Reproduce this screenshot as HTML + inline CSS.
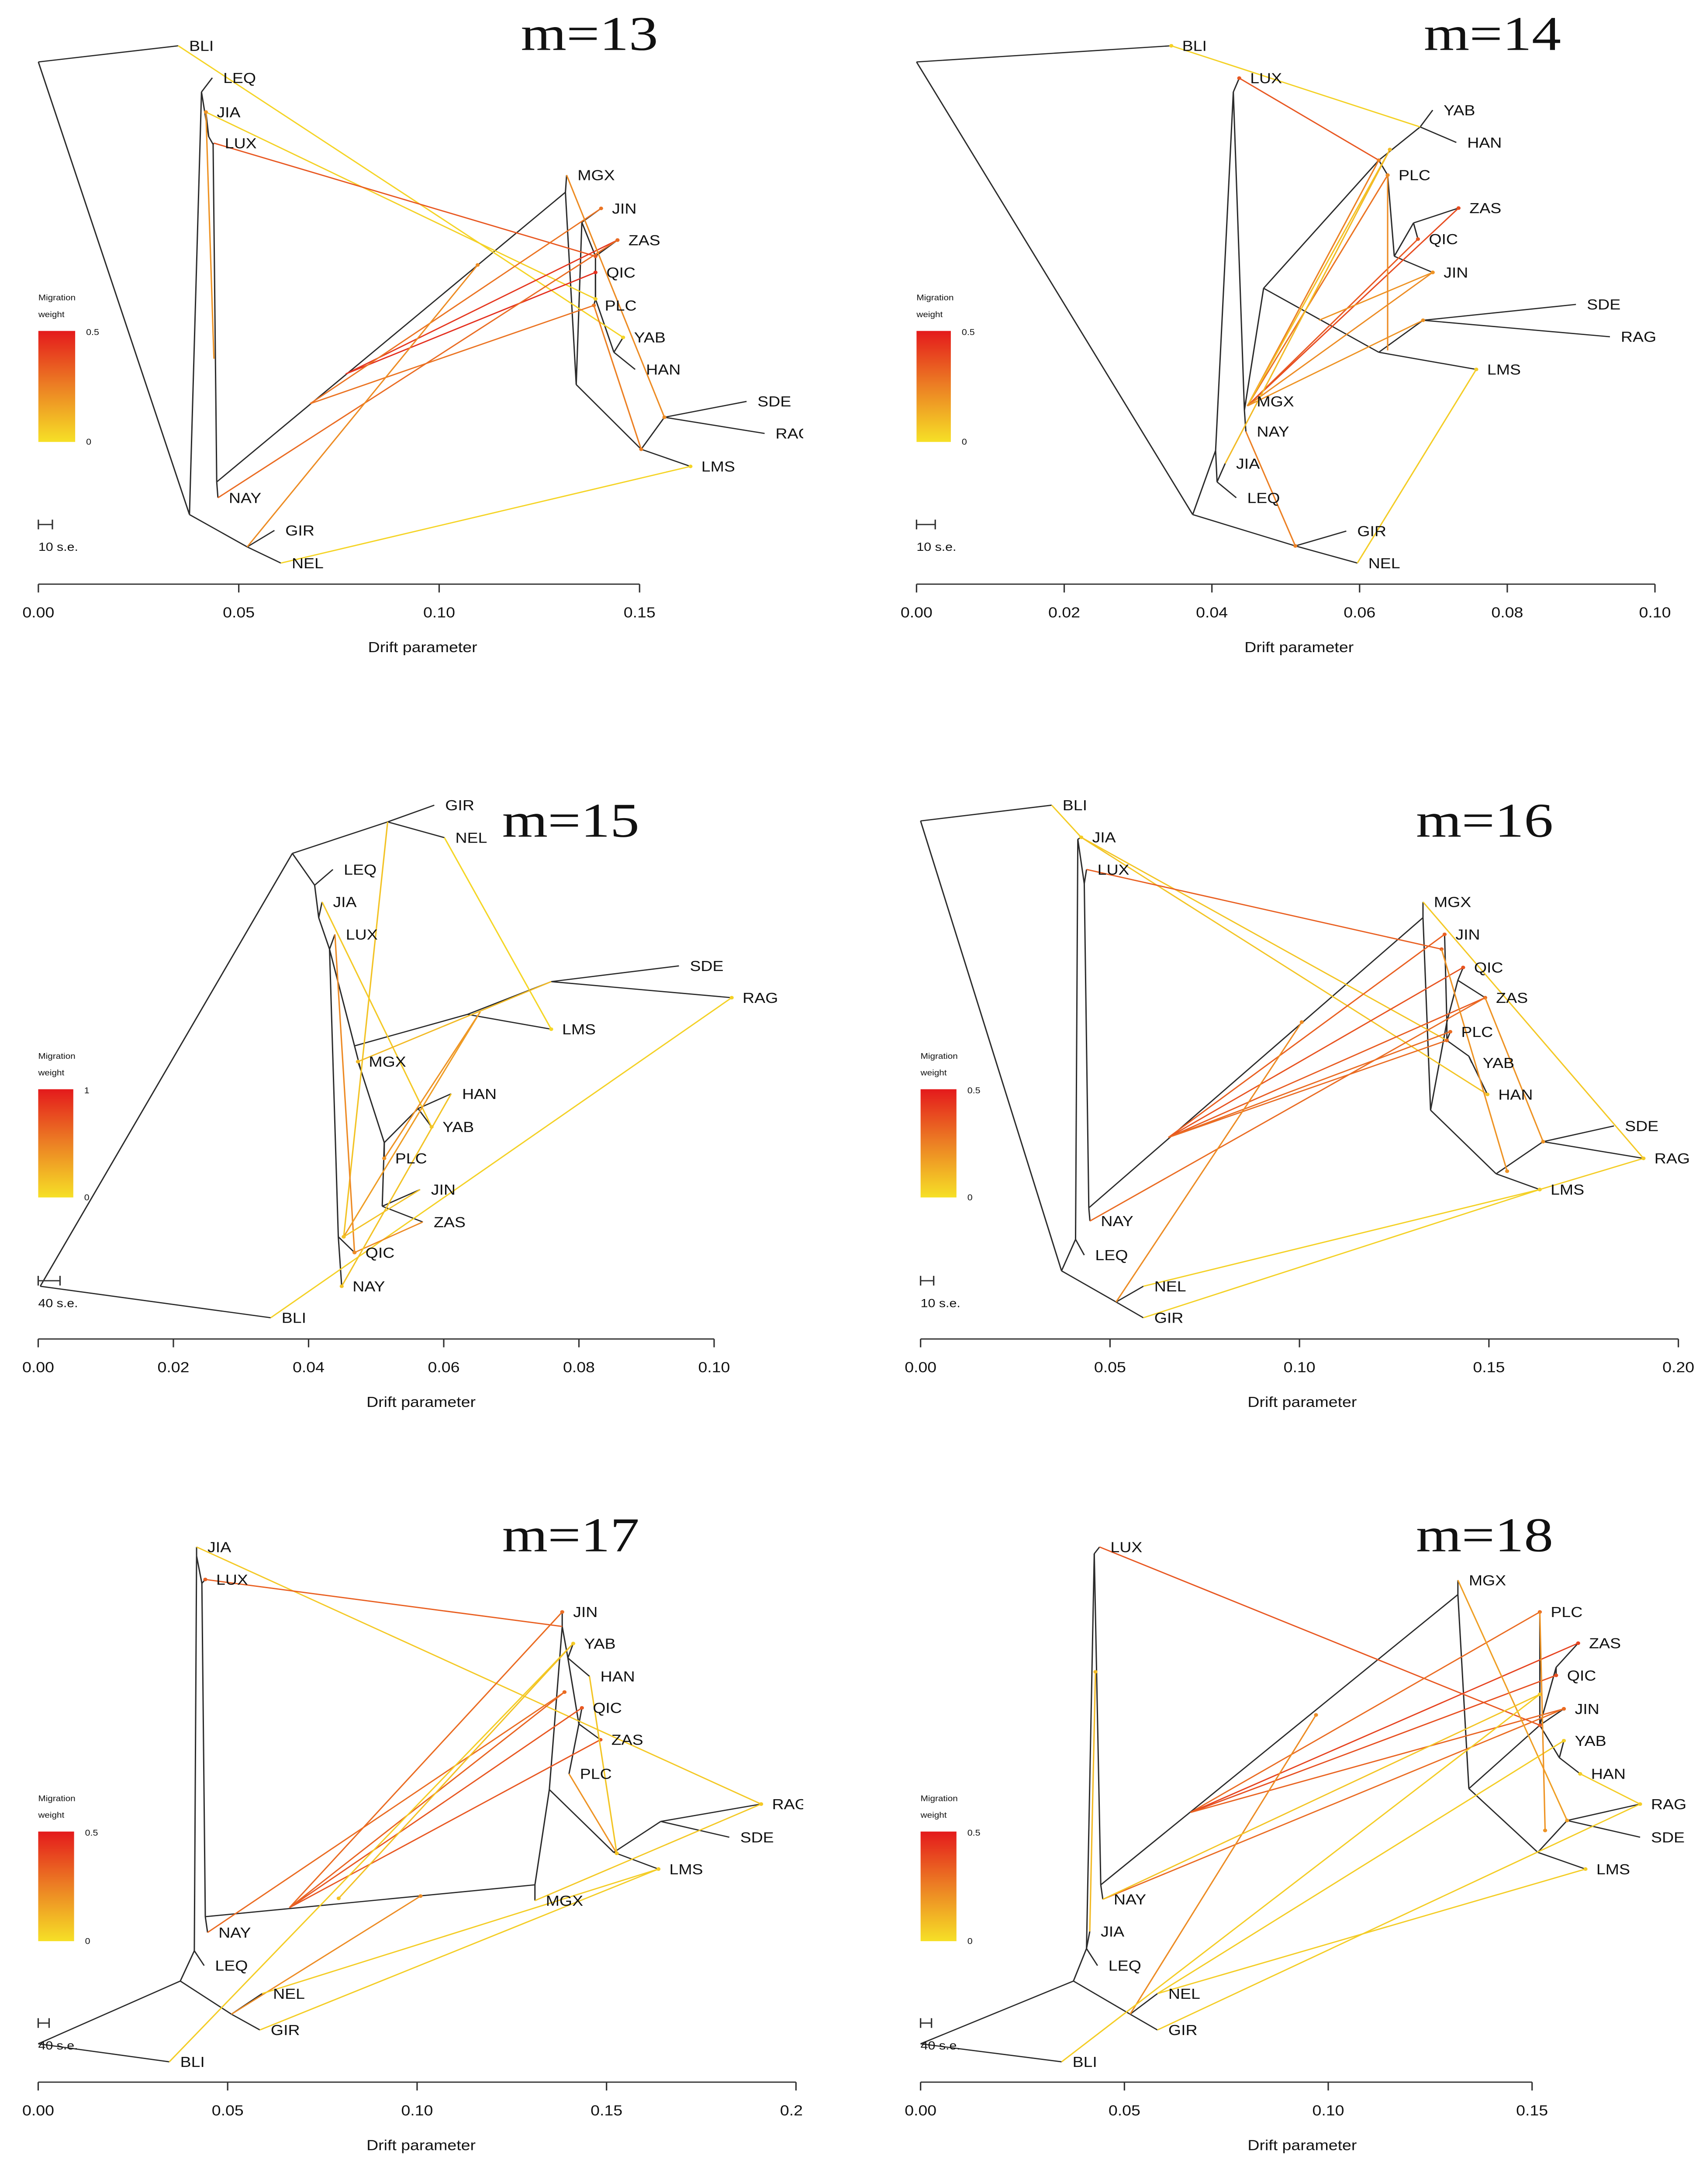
<!DOCTYPE html>
<html><head><meta charset="utf-8"><title>TreeMix m=13..18</title>
<style>
html,body{margin:0;padding:0;background:#fff;width:100vw;height:100vh;overflow:hidden;}
svg{display:block;width:100vw;height:100vh;}
text{font-family:"Liberation Sans",Arial,sans-serif;fill:#111;}
.ttl{font-family:"Liberation Serif","Times New Roman",serif;}
</style></head>
<body>
<svg id="fig" xmlns="http://www.w3.org/2000/svg" viewBox="0 0 1092 1574" preserveAspectRatio="none">
<defs>
<linearGradient id="legGrad" x1="0" y1="0" x2="0" y2="1">
<stop offset="0" stop-color="rgb(228,26,28)"/>
<stop offset="0.5" stop-color="rgb(236,128,36)"/>
<stop offset="1" stop-color="rgb(246,224,38)"/>
</linearGradient>
<clipPath id="clipLeft"><rect x="0" y="0" width="515" height="1574"/></clipPath>
<clipPath id="clipRight"><rect x="560" y="0" width="532" height="1574"/></clipPath>
</defs>
<rect x="0" y="0" width="1092" height="1574" fill="#fff"/>
</svg>
<script>
// ---------------- DATA ----------------
const pops = ["BLI","LEQ","JIA","LUX","MGX","JIN","ZAS","QIC","PLC","YAB","HAN","SDE","RAG","LMS","NAY","GIR","NEL"];

// Panel m=13
const p1Nodes = [["R",0,0.5],["BLI",0.0349,0],["N1",0.0377,14.5],["N4",0.0521,15.5],["GIR",0.0589,14.99],["NEL",0.0605,16],
["A1",0.0407,1.43],["LEQ",0.0434,0.99],["A2",0.0425,2.81],["JIA",0.0418,2.05],["B",0.0436,3.05],["LUX",0.0438,3.01],
["C",0.0445,13.49],["NAY",0.0448,13.98],["D",0.1315,4.53],["MGX",0.1318,4.0],["E",0.1342,10.48],["F",0.1504,12.48],
["G",0.1562,11.49],["SDE",0.1767,11],["RAG",0.1812,11.99],["LMS",0.1627,13.01],["H",0.1356,5.46],["JIN",0.1404,5.03],
["I",0.139,6.51],["ZAS",0.1445,6.01],["J",0.139,7.83],["QIC",0.139,7.01],["PLC",0.1386,8.03],["K",0.1436,9.48],
["YAB",0.1459,9.02],["HAN",0.1489,10.01],["p",0.0438,9.68],["x1",0.0767,10.15],["x2",0.0678,11.07],["x3",0.1096,6.78]];
const p1Edges = ["R-BLI","R-N1","N1-N4","N4-GIR","N4-NEL","N1-A1","A1-LEQ","A1-A2","A2-JIA","A2-B","B-LUX","B-C","C-NAY","C-D","D-MGX","D-E","E-F","F-G","G-SDE","G-RAG","F-LMS","E-H","H-JIN","H-I","I-ZAS","I-J","J-QIC","J-PLC","J-K","K-YAB","K-HAN"];
const p1MigSrc = ["BLI","JIA","LUX","p","x1","x1","x2","x2","NAY","N4","MGX","PLC","NEL"];
const p1MigDst = ["YAB","J","I","JIA","ZAS","QIC","JIN","PLC","ZAS","x3","G","F","LMS"];
const p1MigW = [0.03,0.04,0.35,0.2,0.43,0.45,0.28,0.28,0.3,0.22,0.22,0.25,0.03];
const p1Ticks = [0,0.05,0.10,0.15];
const p1TickLabels = ["0.00","0.05","0.10","0.15"];

// Panel m=14
const p2Nodes = [["R",0,0.5],["BLI",0.0345,0],["N1",0.0374,14.5],["N4",0.0513,15.47],["GIR",0.0582,15.01],["NEL",0.0597,16],
["V1",0.0405,12.52],["V1b",0.0407,13.49],["LEQ",0.0433,13.98],["JIA",0.0418,12.92],["V2",0.0429,1.43],["LUX",0.0437,1.0],
["V3",0.0444,11.27],["MGX",0.0446,11.0],["NAY",0.0446,11.93],["P",0.047,7.5],["Q",0.0626,3.54],["Q2",0.0682,2.51],
["YAB",0.0699,1.99],["HAN",0.0731,2.99],["PLC",0.0638,4.0],["S",0.0647,6.51],["U",0.0673,5.48],["ZAS",0.0734,5.02],
["QIC",0.0679,5.98],["JIN",0.0699,7.01],["W",0.0626,9.48],["X",0.0686,8.49],["SDE",0.0893,8.0],["RAG",0.0939,9.0],
["LMS",0.0758,10.01],["m0",0.0448,11.14],["y1",0.0641,3.21],["y2",0.0545,8.49],["y3",0.0638,9.42]];
const p2Edges = ["R-BLI","R-N1","N1-N4","N4-GIR","N4-NEL","N1-V1","V1-V1b","V1b-LEQ","V1b-JIA","V1-V2","V2-LUX","V2-V3","V3-MGX","V3-NAY","V3-P","P-Q","Q-Q2","Q2-YAB","Q2-HAN","Q-PLC","PLC-S","S-U","U-ZAS","U-QIC","S-JIN","P-W","W-X","X-SDE","X-RAG","W-LMS"];
const p2MigSrc = ["Q2","Q","m0","m0","m0","m0","m0","m0","m0","y2","JIA","y3","NAY","NEL"];
const p2MigDst = ["BLI","LUX","Q","PLC","y1","ZAS","QIC","JIN","X","JIN","y1","PLC","N4","LMS"];
const p2MigW = [0.04,0.35,0.25,0.28,0.08,0.38,0.35,0.22,0.2,0.2,0.1,0.22,0.25,0.05];
const p2Ticks = [0,0.02,0.04,0.06,0.08,0.10];
const p2TickLabels = ["0.00","0.02","0.04","0.06","0.08","0.10"];

// Panel m=15
const p3Nodes = [["R",0.0003,14.97],["BLI",0.0344,15.95],["N1",0.0376,1.5],["N2",0.0517,0.52],["GIR",0.0586,0],["NEL",0.0601,1.01],
["A",0.0409,2.49],["LEQ",0.0436,2.0],["B",0.0415,3.5],["JIA",0.042,3.01],["C",0.0431,4.48],["LUX",0.0439,4.02],
["K",0.0444,13.43],["QIC",0.0468,13.92],["NAY",0.0449,14.97],["D",0.0468,7.49],["E",0.0635,6.51],["F",0.0759,5.49],
["SDE",0.0948,5.0],["RAG",0.1026,5.99],["LMS",0.0759,6.97],["G2",0.0477,8.22],["MGX",0.0473,7.98],["H",0.0512,10.5],
["I",0.0562,9.44],["HAN",0.0611,8.98],["YAB",0.0582,10.01],["J",0.0509,12.48],["JIN",0.0565,11.96],["ZAS",0.0569,12.97],
["PLC",0.0512,10.99],["q1",0.0452,13.43],["q2",0.0654,6.43]];
const p3Edges = ["R-BLI","R-N1","N1-N2","N2-GIR","N2-NEL","N1-A","A-LEQ","A-B","B-JIA","B-C","C-LUX","C-K","K-QIC","K-NAY","C-D","D-E","E-F","F-SDE","F-RAG","E-LMS","D-G2","G2-MGX","G2-H","H-I","I-HAN","I-YAB","H-PLC","H-J","J-JIN","J-ZAS"];
const p3MigSrc = ["N2","NEL","LUX","JIA","BLI","q2","q2","F","JIN","ZAS","HAN"];
const p3MigDst = ["q1","LMS","QIC","YAB","RAG","PLC","q1","MGX","q1","QIC","NAY"];
const p3MigW = [0.15,0.05,0.45,0.12,0.08,0.4,0.35,0.2,0.15,0.45,0.15];
const p3Ticks = [0,0.02,0.04,0.06,0.08,0.10];
const p3TickLabels = ["0.00","0.02","0.04","0.06","0.08","0.10"];

// Panel m=16
const p4Nodes = [["R",0,0.49],["BLI",0.0346,0],["N1",0.0372,14.49],["N4",0.0516,15.46],["NEL",0.0588,14.97],["GIR",0.0588,15.95],
["L",0.0409,13.51],["LEQ",0.0432,14.0],["A",0.0415,1.06],["JIA",0.0424,1.0],["B",0.0432,2.44],["LUX",0.0438,2.0],
["C",0.0444,12.53],["NAY",0.0447,12.94],["D",0.1326,3.5],["MGX",0.1326,3.01],["E",0.1346,9.49],["F",0.1389,6.75],
["JIN",0.1383,4.02],["G",0.1418,5.45],["QIC",0.1432,5.05],["ZAS",0.149,5.99],["H",0.1389,7.32],["PLC",0.1398,7.05],
["I",0.1447,7.81],["YAB",0.1455,8.02],["HAN",0.1496,9.0],["J",0.1519,11.47],["K",0.1643,10.47],["SDE",0.183,9.98],
["RAG",0.1908,10.99],["LMS",0.1634,11.96],["r1",0.0654,10.34],["r2",0.1006,6.75],["r3",0.1375,4.48],["r4",0.1548,11.39]];
const p4Edges = ["R-BLI","R-N1","N1-N4","N4-NEL","N4-GIR","N1-L","L-LEQ","L-A","A-JIA","A-B","B-LUX","B-C","C-NAY","C-D","D-MGX","D-E","E-F","F-JIN","F-G","G-QIC","G-ZAS","F-H","H-PLC","H-I","I-YAB","I-HAN","E-J","J-K","K-SDE","K-RAG","J-LMS"];
const p4MigSrc = ["BLI","JIA","JIA","LUX","r1","r1","r1","r1","r1","NAY","N4","MGX","r3","ZAS","NEL","GIR","RAG"];
const p4MigDst = ["JIA","H","HAN","r3","JIN","QIC","ZAS","PLC","H","ZAS","r2","RAG","r4","K","LMS","LMS","LMS"];
const p4MigW = [0.05,0.07,0.07,0.33,0.33,0.36,0.34,0.3,0.3,0.3,0.22,0.06,0.2,0.2,0.04,0.04,0.05];
const p4Ticks = [0,0.05,0.10,0.15,0.20];
const p4TickLabels = ["0.00","0.05","0.10","0.15","0.20"];

// Panel m=17
const p5Nodes = [["R",0,15.44],["BLI",0.0346,16],["N1",0.0375,13.49],["N4",0.051,14.52],["NEL",0.0591,13.88],["GIR",0.0585,15.01],
["L",0.0412,12.55],["LEQ",0.0438,13.01],["A",0.0418,0.28],["JIA",0.0418,0],["B",0.0432,1.13],["LUX",0.0441,1.01],
["C",0.0441,11.49],["NAY",0.0447,11.98],["D",0.1311,10.5],["MGX",0.1311,10.99],["E",0.1383,2.47],["JIN",0.1383,2.02],
["F",0.1398,3.45],["YAB",0.1412,3.0],["HAN",0.1455,4.02],["G",0.1427,5.5],["QIC",0.1435,5.0],["ZAS",0.1484,5.99],
["PLC",0.1401,7.05],["H",0.1349,7.54],["J",0.1519,9.49],["K",0.1643,8.53],["RAG",0.1908,7.99],["SDE",0.1824,9.02],
["LMS",0.1637,10.01],["s1",0.0663,11.21],["s2",0.1009,10.85],["s3",0.1389,4.51],["s4",0.1527,9.52],["s5",0.0793,10.92]];
const p5Edges = ["R-BLI","R-N1","N1-N4","N4-NEL","N4-GIR","N1-L","L-LEQ","L-A","A-JIA","A-B","B-LUX","B-C","C-NAY","C-D","D-MGX","D-H","H-E","E-JIN","E-F","F-YAB","F-HAN","F-G","G-QIC","G-ZAS","G-PLC","H-J","J-K","K-RAG","K-SDE","J-LMS"];
const p5MigSrc = ["JIA","E","s1","s1","s1","s1","NAY","BLI","N4","NEL","GIR","MGX","PLC","HAN","YAB"];
const p5MigDst = ["RAG","LUX","JIN","QIC","ZAS","s3","s3","YAB","s2","LMS","LMS","RAG","s4","s4","s5"];
const p5MigW = [0.06,0.33,0.3,0.35,0.35,0.32,0.3,0.05,0.22,0.05,0.05,0.06,0.2,0.07,0.08];
const p5Ticks = [0,0.05,0.10,0.15,0.20];
const p5TickLabels = ["0.00","0.05","0.10","0.15","0.20"];

// Panel m=18
const p6Nodes = [["R",0,15.44],["BLI",0.0346,16],["N1",0.0375,13.49],["N4",0.0514,14.52],["NEL",0.0581,13.88],["GIR",0.0581,15.01],
["L",0.0407,12.48],["LEQ",0.0434,13.01],["JIA",0.0415,11.95],["A",0.0426,0.21],["LUX",0.0439,0],["C",0.0442,10.5],
["NAY",0.0447,10.95],["D",0.1318,1.48],["MGX",0.1318,1.03],["E",0.1345,7.51],["F",0.1519,5.54],["PLC",0.1519,2.02],
["G",0.1559,3.74],["ZAS",0.1613,2.99],["QIC",0.1559,3.99],["JIN",0.1578,5.03],["H",0.1567,6.55],["YAB",0.1578,6.02],
["HAN",0.1618,7.05],["J",0.1514,9.49],["K",0.1586,8.5],["RAG",0.1765,7.99],["SDE",0.1765,9.02],["LMS",0.1631,10.01],
["t1",0.0662,8.25],["t2",0.097,5.22],["t3",0.0429,3.88],["t4",0.1532,8.81],["t5",0.1519,4.58]];
const p6Edges = ["R-BLI","R-N1","N1-N4","N4-NEL","N4-GIR","N1-L","L-LEQ","L-JIA","L-A","A-LUX","A-C","C-NAY","C-D","D-MGX","D-E","E-F","F-PLC","F-G","G-ZAS","G-QIC","F-JIN","F-H","H-YAB","H-HAN","E-J","J-K","K-RAG","K-SDE","J-LMS"];
const p6MigSrc = ["LUX","t1","t1","t1","t1","NAY","N4","MGX","JIA","NAY","BLI","NEL","NEL","GIR","PLC","RAG"];
const p6MigDst = ["F","PLC","ZAS","QIC","JIN","JIN","t2","K","t3","t5","t5","YAB","LMS","RAG","t4","HAN"];
const p6MigW = [0.35,0.3,0.4,0.37,0.32,0.3,0.22,0.17,0.1,0.07,0.05,0.05,0.05,0.05,0.2,0.05];
const p6Ticks = [0,0.05,0.10,0.15];
const p6TickLabels = ["0.00","0.05","0.10","0.15"];

// ---------------- DRAWING ----------------
const NS = "http://www.w3.org/2000/svg";
const svg = document.getElementById("fig");
function mk(tag, attrs, parent){
  const e = document.createElementNS(NS, tag);
  for (const k in attrs) e.setAttribute(k, attrs[k]);
  (parent || svg).appendChild(e);
  return e;
}
function lerp(a,b,t){return Math.round(a+(b-a)*t);}
function migColor(t){
  t = Math.max(0, Math.min(1, t));
  const Y=[246,224,38], O=[236,128,36], Rd=[226,28,30];
  let c;
  if (t < 0.5){ const u=t/0.5; c=[lerp(Y[0],O[0],u),lerp(Y[1],O[1],u),lerp(Y[2],O[2],u)]; }
  else { const u=(t-0.5)/0.5; c=[lerp(O[0],Rd[0],u),lerp(O[1],Rd[1],u),lerp(O[2],Rd[2],u)]; }
  return "rgb("+c.join(",")+")";
}

function drawPanel(cfg, nodes, edges, migSrc, migDst, migW, ticks, tickLabels){
  const g = mk("g", {"clip-path": cfg.clip});
  
  
  const X = d => cfg.ox + d * cfg.k;
  const Y = r => cfg.oy + r * cfg.step;
  const pos = {};
  nodes.forEach(n => { pos[n[0]] = [X(n[1]), Y(n[2])]; });

  edges.forEach(e => {
    const [a,b] = e.split("-");
    const l = mk("line", {x1:pos[a][0].toFixed(2), y1:pos[a][1].toFixed(2), x2:pos[b][0].toFixed(2), y2:pos[b][1].toFixed(2), stroke:"#2b2b2b", "stroke-width":0.85}, g);
    
    
  });
  migSrc.forEach((s,i) => {
    const d = migDst[i];
    const col = migColor(migW[i] / cfg.legMax);
    const l = mk("line", {x1:pos[s][0].toFixed(2), y1:pos[s][1].toFixed(2), x2:pos[d][0].toFixed(2), y2:pos[d][1].toFixed(2), stroke:col, "stroke-width":0.9}, g);
    
    
    const c = mk("circle", {cx:pos[d][0].toFixed(2), cy:pos[d][1].toFixed(2), r:1.3, fill:col}, g);
    
    
  });
  nodes.forEach(n => {
    if (pops.indexOf(n[0]) < 0) return;
    const t = mk("text", {x:(pos[n[0]][0]+7).toFixed(2), y:(pos[n[0]][1]+3.7).toFixed(2), "font-size":10.5}, g);
    t.textContent = n[0];
    
    
  });
  const ax0 = X(ticks[0]), ax1 = X(ticks[ticks.length-1]);
  const axl = mk("line", {x1:ax0, y1:cfg.axisY, x2:ax1, y2:cfg.axisY, stroke:"#333", "stroke-width":0.9}, g);
  
  
  ticks.forEach((v,i) => {
    const tk = mk("line", {x1:X(v), y1:cfg.axisY, x2:X(v), y2:cfg.axisY+6, stroke:"#333", "stroke-width":0.9}, g);
    
    
    const tl = mk("text", {x:X(v), y:cfg.axisY+24, "font-size":10.5, "text-anchor":"middle"}, g);
    tl.textContent = tickLabels[i];
    
    
  });
  const xl = mk("text", {x:cfg.xlabX, y:cfg.axisY+49, "font-size":10.5, "text-anchor":"middle"}, g);
  xl.textContent = "Drift parameter";
  
  
  const tt = mk("text", {x:cfg.titleX, y:cfg.titleY, "font-size":35, "text-anchor":"middle", "class":"ttl", textLength:88, lengthAdjust:"spacingAndGlyphs"}, g);
  tt.textContent = cfg.title;
  
  
  const lg = mk("g", {}, g);
  
  
  const l1 = mk("text", {x:cfg.legX, y:cfg.legY-22, "font-size":5.8}, lg); l1.textContent = "Migration";
  
  
  const l2 = mk("text", {x:cfg.legX, y:cfg.legY-10, "font-size":5.8}, lg); l2.textContent = "weight";
  
  
  const bar = mk("rect", {x:cfg.legX, y:cfg.legY, width:cfg.legW, height:cfg.legH, fill:"url(#legGrad)"}, lg);
  
  
  const lm = mk("text", {x:cfg.legX+cfg.legW+7, y:cfg.legY+3, "font-size":6}, lg); lm.textContent = cfg.legMaxLabel;
  
  
  const l0 = mk("text", {x:cfg.legX+cfg.legW+7, y:cfg.legY+cfg.legH+2, "font-size":6}, lg); l0.textContent = "0";
  
  
  const sb = mk("path", {d:"M"+cfg.sbX+" "+(cfg.sbY-3.5)+" v7 M"+cfg.sbX+" "+cfg.sbY+" h"+cfg.sbW+" M"+(cfg.sbX+cfg.sbW)+" "+(cfg.sbY-3.5)+" v7", stroke:"#333", "stroke-width":0.9, fill:"none"}, g);
  
  
  const st = mk("text", {x:cfg.sbX, y:cfg.sbY+19, "font-size":8.5}, g);
  st.textContent = cfg.sbLabel;
  
  
}

const cfgs = [
 {name:"panel-m13", clip:"url(#clipLeft)", ox:24.6, k:2570, oy:33, step:23.3, axisY:421, xlabX:271, title:"m=13", titleX:378, titleY:36,
  legX:24.6, legY:238.5, legW:23.6, legH:80, legMax:0.5, legMaxLabel:"0.5", sbX:24.6, sbY:378, sbW:9, sbLabel:"10 s.e."},
 {name:"panel-m14", clip:"url(#clipRight)", ox:587.7, k:4735, oy:33, step:23.3, axisY:421, xlabX:833, title:"m=14", titleX:957, titleY:36,
  legX:587.7, legY:238.5, legW:22, legH:80, legMax:0.5, legMaxLabel:"0.5", sbX:587.7, sbY:378, sbW:12, sbLabel:"10 s.e."},
 {name:"panel-m15", clip:"url(#clipLeft)", ox:24.5, k:4334, oy:580.3, step:23.16, axisY:965, xlabX:270, title:"m=15", titleX:366, titleY:603,
  legX:24.5, legY:785, legW:22.5, legH:78, legMax:1, legMaxLabel:"1", sbX:24.5, sbY:923, sbW:14, sbLabel:"40 s.e."},
 {name:"panel-m16", clip:"url(#clipRight)", ox:590.3, k:2429.5, oy:580.3, step:23.16, axisY:965, xlabX:835, title:"m=16", titleX:952, titleY:603,
  legX:590.3, legY:785, legW:23, legH:78, legMax:0.5, legMaxLabel:"0.5", sbX:590.3, sbY:923, sbW:8.4, sbLabel:"10 s.e."},
 {name:"panel-m17", clip:"url(#clipLeft)", ox:24.5, k:2429.5, oy:1114.9, step:23.19, axisY:1500.6, xlabX:270, title:"m=17", titleX:366, titleY:1118,
  legX:24.5, legY:1320, legW:23, legH:79, legMax:0.5, legMaxLabel:"0.5", sbX:24.5, sbY:1458, sbW:7, sbLabel:"40 s.e."},
 {name:"panel-m18", clip:"url(#clipRight)", ox:590.3, k:2614, oy:1114.9, step:23.19, axisY:1500.6, xlabX:835, title:"m=18", titleX:952, titleY:1118,
  legX:590.3, legY:1320, legW:23, legH:79, legMax:0.5, legMaxLabel:"0.5", sbX:590.3, sbY:1458, sbW:7, sbLabel:"40 s.e."}
];

drawPanel(cfgs[0], p1Nodes, p1Edges, p1MigSrc, p1MigDst, p1MigW, p1Ticks, p1TickLabels);
drawPanel(cfgs[1], p2Nodes, p2Edges, p2MigSrc, p2MigDst, p2MigW, p2Ticks, p2TickLabels);
drawPanel(cfgs[2], p3Nodes, p3Edges, p3MigSrc, p3MigDst, p3MigW, p3Ticks, p3TickLabels);
drawPanel(cfgs[3], p4Nodes, p4Edges, p4MigSrc, p4MigDst, p4MigW, p4Ticks, p4TickLabels);
drawPanel(cfgs[4], p5Nodes, p5Edges, p5MigSrc, p5MigDst, p5MigW, p5Ticks, p5TickLabels);
drawPanel(cfgs[5], p6Nodes, p6Edges, p6MigSrc, p6MigDst, p6MigW, p6Ticks, p6TickLabels);
</script>
</body></html>
